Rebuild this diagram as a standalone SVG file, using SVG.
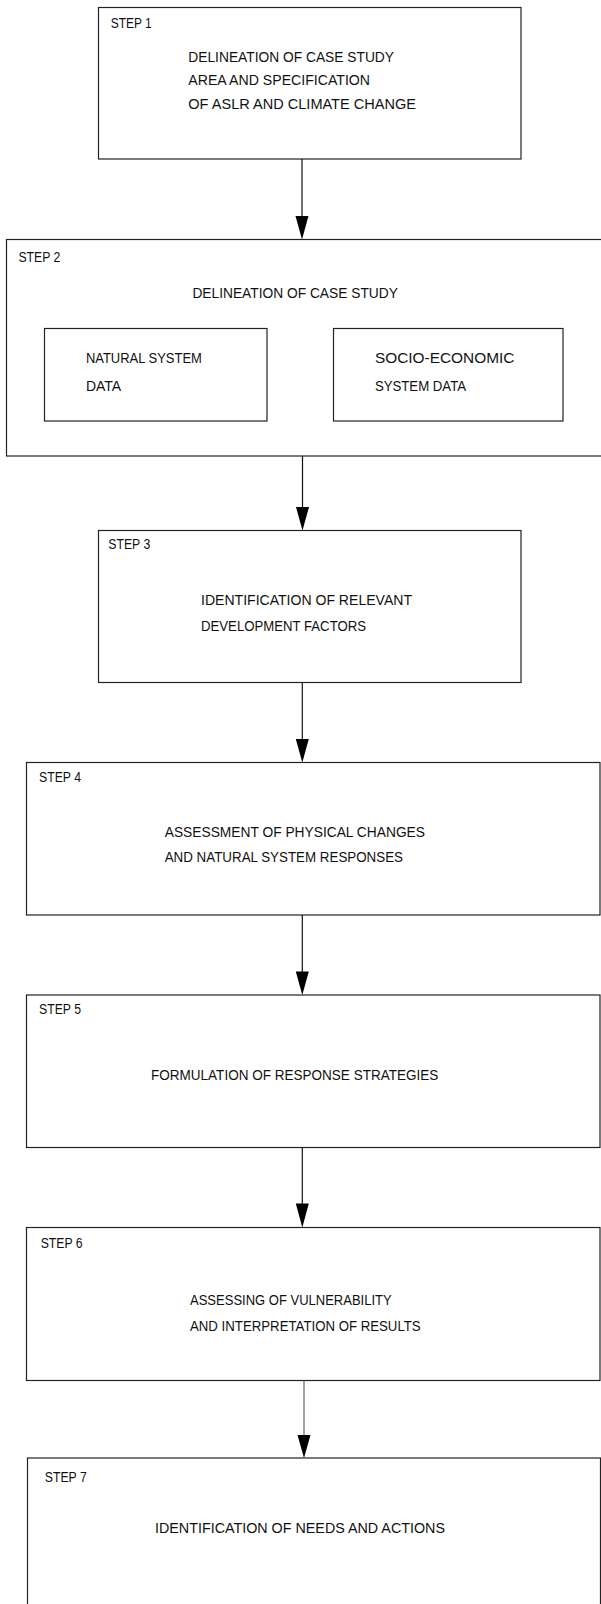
<svg xmlns="http://www.w3.org/2000/svg" width="601" height="1604" viewBox="0 0 601 1604">
<style>
.box{fill:#fff;stroke:#222;stroke-width:1.2}
.t{font-family:"Liberation Sans",Arial,sans-serif;font-size:14px;fill:#111}
.c{stroke:#111;stroke-width:1.2;fill:none}
.c6{stroke:#666;stroke-width:1.2;fill:none}
.ah{fill:#000}
</style>
<rect width="601" height="1604" fill="#fff"/>
<g id="step1">
<rect class="box" x="98.5" y="7.5" width="422.5" height="151.5"/>
<text class="t" x="110.7" y="28.3" textLength="41" lengthAdjust="spacingAndGlyphs">STEP 1</text>
<text class="t" x="188.3" y="61.7" textLength="205.7" lengthAdjust="spacingAndGlyphs">DELINEATION OF CASE STUDY</text>
<text class="t" x="188.3" y="85" textLength="181.7" lengthAdjust="spacingAndGlyphs">AREA AND SPECIFICATION</text>
<text class="t" x="188.3" y="109.3" textLength="227.7" lengthAdjust="spacingAndGlyphs">OF ASLR AND CLIMATE CHANGE</text>
</g>
<g id="step2">
<rect class="box" x="6.5" y="239.5" width="606" height="216.5"/>
<text class="t" x="18.4" y="261.7" textLength="42" lengthAdjust="spacingAndGlyphs">STEP 2</text>
<text class="t" x="192.4" y="297.7" textLength="205.5" lengthAdjust="spacingAndGlyphs">DELINEATION OF CASE STUDY</text>
</g>
<g id="natural">
<rect class="box" x="44.5" y="328.5" width="222.5" height="92.5"/>
<text class="t" x="85.9" y="363.3" textLength="116" lengthAdjust="spacingAndGlyphs">NATURAL SYSTEM</text>
<text class="t" x="85.9" y="391" textLength="35.3" lengthAdjust="spacingAndGlyphs">DATA</text>
</g>
<g id="socio">
<rect class="box" x="333.5" y="328.5" width="229.5" height="92.5"/>
<text class="t" x="374.9" y="363.3" textLength="139.5" lengthAdjust="spacingAndGlyphs">SOCIO-ECONOMIC</text>
<text class="t" x="374.9" y="391" textLength="91.2" lengthAdjust="spacingAndGlyphs">SYSTEM DATA</text>
</g>
<g id="step3">
<rect class="box" x="98.5" y="530.5" width="422.5" height="152"/>
<text class="t" x="108.3" y="549" textLength="42" lengthAdjust="spacingAndGlyphs">STEP 3</text>
<text class="t" x="201" y="605" textLength="211" lengthAdjust="spacingAndGlyphs">IDENTIFICATION OF RELEVANT</text>
<text class="t" x="201" y="630.7" textLength="165" lengthAdjust="spacingAndGlyphs">DEVELOPMENT FACTORS</text>
</g>
<g id="step4">
<rect class="box" x="26.5" y="762.5" width="573.5" height="152.5"/>
<text class="t" x="39" y="782.3" textLength="42" lengthAdjust="spacingAndGlyphs">STEP 4</text>
<text class="t" x="164.7" y="836.7" textLength="260.3" lengthAdjust="spacingAndGlyphs">ASSESSMENT OF PHYSICAL CHANGES</text>
<text class="t" x="164.7" y="862.3" textLength="238.3" lengthAdjust="spacingAndGlyphs">AND NATURAL SYSTEM RESPONSES</text>
</g>
<g id="step5">
<rect class="box" x="26.5" y="995" width="573.5" height="152.5"/>
<text class="t" x="39" y="1014.3" textLength="42" lengthAdjust="spacingAndGlyphs">STEP 5</text>
<text class="t" x="151" y="1080" textLength="287.3" lengthAdjust="spacingAndGlyphs">FORMULATION OF RESPONSE STRATEGIES</text>
</g>
<g id="step6">
<rect class="box" x="26.5" y="1227.5" width="573.5" height="153"/>
<text class="t" x="40.7" y="1248.3" textLength="42" lengthAdjust="spacingAndGlyphs">STEP 6</text>
<text class="t" x="190" y="1305" textLength="201.7" lengthAdjust="spacingAndGlyphs">ASSESSING OF VULNERABILITY</text>
<text class="t" x="190" y="1330.7" textLength="230.7" lengthAdjust="spacingAndGlyphs">AND INTERPRETATION OF RESULTS</text>
</g>
<g id="step7">
<rect class="box" x="27.5" y="1458" width="573" height="200"/>
<text class="t" x="44.8" y="1481.7" textLength="42" lengthAdjust="spacingAndGlyphs">STEP 7</text>
<text class="t" x="155" y="1533.3" textLength="290" lengthAdjust="spacingAndGlyphs">IDENTIFICATION OF NEEDS AND ACTIONS</text>
</g>
<g id="connectors">
<line class="c" x1="302" y1="159" x2="302" y2="217"/>
<polygon class="ah" points="295.5,216 308.5,216 302,239.5"/>
<line class="c" x1="302.5" y1="456" x2="302.5" y2="508"/>
<polygon class="ah" points="296,507 309,507 302.5,530.5"/>
<line class="c" x1="302.3" y1="682.5" x2="302.3" y2="740"/>
<polygon class="ah" points="295.8,739 308.8,739 302.3,762.5"/>
<line class="c" x1="302.3" y1="915" x2="302.3" y2="972"/>
<polygon class="ah" points="295.8,971.5 308.8,971.5 302.3,995"/>
<line class="c" x1="302.3" y1="1147.5" x2="302.3" y2="1204"/>
<polygon class="ah" points="295.8,1203.5 308.8,1203.5 302.3,1227.5"/>
<line class="c6" x1="304" y1="1380.5" x2="304" y2="1436"/>
<polygon class="ah" points="297.5,1435 310.5,1435 304,1458"/>
</g>
</svg>
